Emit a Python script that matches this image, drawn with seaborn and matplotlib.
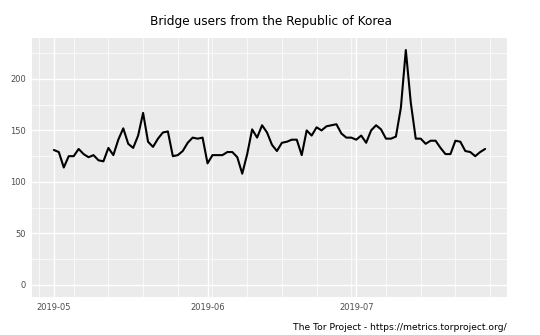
import numpy as np
import pandas as pd
import matplotlib
matplotlib.use("Agg")
import matplotlib.pyplot as plt
import matplotlib.dates as mdates
import seaborn as sns

start_date = "2019-05-01"
users = [
    # May
    131, 129, 114, 125, 125, 132, 127, 124, 126, 121,
    120, 133, 126, 141, 152, 137, 133, 145, 167, 139,
    134, 142, 148, 149, 125, 126, 130, 138, 143, 142, 143,
    # June
    118, 126, 126, 126, 129, 129, 124, 108, 127, 151,
    143, 155, 148, 136, 130, 138, 139, 141, 141, 126,
    150, 145, 153, 150, 154, 155, 156, 147, 143, 143,
    # July
    141, 145, 138, 150, 155, 151, 142, 142, 144, 172,
    228, 177, 142, 142, 137, 140, 140, 133, 127, 127,
    140, 139, 130, 129, 125, 129, 132,
]
y_ticks = [0, 50, 100, 150, 200]
x_tick_labels = ["2019-05", "2019-06", "2019-07"]

dates = pd.date_range(start_date, periods=len(users), freq="D")
df = pd.DataFrame({"date": dates, "users": users})

sns.set_theme(style="darkgrid")
plt.rcParams["font.family"] = ["DejaVu Sans"]

fig = plt.figure(figsize=(5.4, 3.35), dpi=100)
ax = fig.add_axes([32.3 / 540, 1 - 296.7 / 335, 474.4 / 540, 258.4 / 335])
ax.set_facecolor("#EBEBEB")

sns.lineplot(data=df, x="date", y="users", ax=ax, color="black", linewidth=1.5)

# limits with ggplot-like expansion
span = (dates[-1] - dates[0]).days
pad = pd.Timedelta(days=span * 0.05)
ax.set_xlim(dates[0] - pad, dates[-1] + pad)
ymax = max(users)
ax.set_ylim(-0.05 * ymax, ymax * 1.05)

major_x = pd.to_datetime([t + "-01" for t in x_tick_labels])
ax.set_xticks(major_x)
ax.set_xticklabels(x_tick_labels)
ax.xaxis.set_minor_locator(mdates.WeekdayLocator(byweekday=mdates.SU))
ax.set_yticks(y_ticks)
ax.set_yticks([25, 75, 125, 175, 225], minor=True)

ax.grid(which="major", color="white", linewidth=1.0)
ax.grid(which="minor", color="white", linewidth=0.5)
ax.set_axisbelow(True)
for s in ax.spines.values():
    s.set_visible(False)

ax.tick_params(axis="both", which="major", labelsize=6, colors="#333333",
               length=2.5, width=0.6, pad=2, labelcolor="#4D4D4D")
ax.tick_params(axis="both", which="minor", length=0)
ax.set_xlabel("")
ax.set_ylabel("")

fig.text(0.5025, 1 - 21 / 335, "Bridge users from the Republic of Korea",
         ha="center", va="center", fontsize=8.75, color="black")
fig.text(507 / 540, 1 - 327 / 335, "The Tor Project - https://metrics.torproject.org/",
         ha="right", va="center", fontsize=6.6, color="black")

fig.savefig("out.png", dpi=100)
